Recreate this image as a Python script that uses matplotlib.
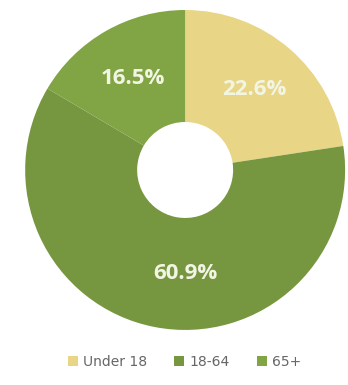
import matplotlib
matplotlib.use("Agg")
import matplotlib.pyplot as plt

groups = ["Under 18", "18-64", "65+"]
shares = [22.6, 60.9, 16.5]
colors = ["#e8d585", "#779640", "#81a545"]

fig = plt.figure(figsize=(3.48, 3.85), dpi=100)
ax = fig.add_axes([0.072, 0.143, 0.920, 0.831])

wedges, texts, autotexts = ax.pie(
    shares, colors=colors, startangle=90, counterclock=False,
    autopct="%.1f%%", pctdistance=0.66,
    wedgeprops=dict(width=0.70, linewidth=0),
    textprops=dict(color="#f2f5e4", fontsize=16, fontweight="bold",
                   family="Open Sans"),
)
# the big slice label sits straight below the hole
autotexts[1].set_x(0)
ax.set_xlim(-1, 1)
ax.set_ylim(-1, 1)
ax.set_aspect("equal")

fig.legend(wedges, groups, loc="center", bbox_to_anchor=(0.53, 0.06), ncol=3,
           frameon=False, fontsize=10, labelcolor="#666666",
           handlelength=0.7, handleheight=0.7, handletextpad=0.35,
           columnspacing=2.0)

fig.savefig("out.png", dpi=100)
